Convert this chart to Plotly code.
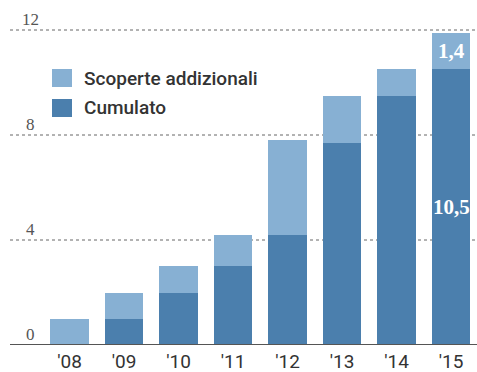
import plotly.graph_objects as go

years = ["'08", "'09", "'10", "'11", "'12", "'13", "'14", "'15"]
cumulato = [0, 1, 2, 3, 4.2, 7.7, 9.5, 10.5]
aggiuntive = [1, 1, 1, 1.2, 3.6, 1.8, 1.0, 1.4]
y_ticks = [0, 4, 8, 12]
legend_names = ["Scoperte addizionali", "Cumulato"]

LIGHT = "#87b0d3"
DARK = "#4b7fad"
W, H = 477, 372
MB = 27
PH = H - MB

def py(p):
    return 1 - p / PH

def px(p):
    return p / W

fig = go.Figure()
xs = list(range(len(years)))
fig.add_trace(go.Bar(x=xs, y=cumulato, marker=dict(color=DARK, line=dict(width=0)), name=legend_names[1]))
fig.add_trace(go.Bar(x=xs, y=aggiuntive, marker=dict(color=LIGHT, line=dict(width=0)), name=legend_names[0]))

shapes = []
for t in y_ticks:
    if t == 0:
        continue
    shapes.append(dict(type="line", xref="paper", yref="y", x0=px(10), x1=1, y0=t, y1=t,
                       line=dict(color="#666", width=1, dash="dot"), layer="below"))
shapes.append(dict(type="line", xref="paper", yref="y", x0=px(10), x1=1, y0=0, y1=0,
                   line=dict(color="#555", width=2), layer="above"))
# legend swatches
shapes.append(dict(type="rect", xref="paper", yref="paper", x0=px(52), x1=px(72), y0=py(87), y1=py(69),
                   fillcolor=LIGHT, line=dict(width=0)))
shapes.append(dict(type="rect", xref="paper", yref="paper", x0=px(52), x1=px(72), y0=py(117), y1=py(99),
                   fillcolor=DARK, line=dict(width=0)))

ann = []
for t in y_ticks:
    ann.append(dict(x=px(30), y=t, xref="paper", yref="y", text=str(t), showarrow=False,
                    xanchor="center", yanchor="bottom", yshift=-1,
                    font=dict(family="Liberation Serif", size=17, color="#555")))
ann.append(dict(x=px(82), y=py(78), xref="paper", yref="paper", text=legend_names[0], showarrow=False,
                xanchor="left", yanchor="middle",
                font=dict(family="Roboto", size=19, color="#333", weight=500)))
ann.append(dict(x=px(82), y=py(108), xref="paper", yref="paper", text=legend_names[1], showarrow=False,
                xanchor="left", yanchor="middle",
                font=dict(family="Roboto", size=19, color="#333", weight=500)))
last = len(years) - 1
ann.append(dict(x=last, y=cumulato[last] / 2, text=f"{cumulato[last]}".replace(".", ","), showarrow=False,
                font=dict(family="Liberation Serif", size=21, color="white", weight="bold")))
ann.append(dict(x=last, y=cumulato[last] + aggiuntive[last] / 2, text=f"{aggiuntive[last]}".replace(".", ","),
                showarrow=False, font=dict(family="Liberation Serif", size=21, color="white", weight="bold")))

pitch = 54.5
x0 = 69.5
fig.update_layout(
    width=W, height=H, barmode="stack", bargap=0.285, showlegend=False,
    margin=dict(l=0, r=0, t=0, b=MB, pad=0),
    plot_bgcolor="white", paper_bgcolor="white",
    xaxis=dict(range=[-x0 / pitch, (W - x0) / pitch], tickmode="array", tickvals=xs, ticktext=years,
               showgrid=False, zeroline=False, showline=False, ticks="", ticklabelstandoff=3,
               tickfont=dict(family="Roboto", size=19, color="#333")),
    yaxis=dict(range=[0, PH / 26.25], showgrid=False, zeroline=False, showticklabels=False, showline=False),
    shapes=shapes, annotations=ann,
)
fig.write_html("out.html")
